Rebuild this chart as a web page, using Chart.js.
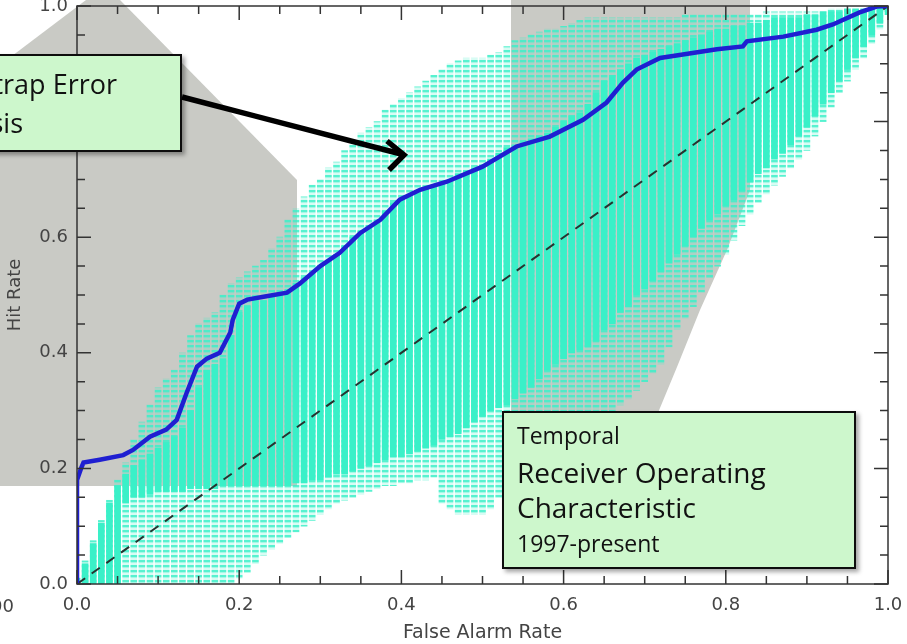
<!DOCTYPE html>
<html>
<head>
<meta charset="utf-8">
<script src="https://cdn.jsdelivr.net/npm/chart.js@4.4.1/dist/chart.umd.min.js"></script>
<style>
  body { margin: 0; background: #fff; }
  #wrap { position: relative; width: 907px; height: 644px; overflow: hidden; }
  #wrap svg, #wrap canvas { position: absolute; left: 0; top: 0; }
</style>
</head>
<body>
<div id="wrap">
  <!-- slide background shapes behind the chart -->
  <svg width="907" height="644">
    <polygon points="0,65 86,0 120,0 297,180 297,486 0,486" fill="#c9cac5"/>
    <polygon points="511,0 750,0 750,190 727,250 700,310 677,367 655,420 511,420" fill="#c9cac5"/>
  </svg>
  <canvas id="roc" width="907" height="644"></canvas>
  <!-- callouts on top -->
  <svg width="907" height="644">
    <defs>
      <filter id="sh" x="-10%" y="-10%" width="130%" height="130%">
        <feDropShadow dx="3" dy="3" stdDeviation="2" flood-color="#000" flood-opacity="0.35"/>
      </filter>
    </defs>
    <rect x="-20" y="55" width="201" height="96" fill="#cdf7cc" stroke="#111" stroke-width="2" filter="url(#sh)"/>
    <g font-family="Open Sans" fill="#111">
      <text x="117" y="94" font-size="27" text-anchor="end">Bootstrap Error</text>
      <text x="23" y="133" font-size="27" text-anchor="end">Analysis</text>
    </g>
    <line x1="182" y1="97" x2="401" y2="154" stroke="#000" stroke-width="5.5"/>
    <polyline points="387,141 404,155 389,170" fill="none" stroke="#000" stroke-width="5.5"/>
    <rect x="503" y="412" width="352" height="156" fill="#cdf7cc" stroke="#111" stroke-width="2" filter="url(#sh)"/>
    <g font-family="Open Sans" fill="#111">
      <text x="517" y="444" font-size="23">Temporal</text>
      <text x="517" y="483" font-size="28">Receiver Operating</text>
      <text x="517" y="518" font-size="28">Characteristic</text>
      <text x="517" y="552" font-size="23">1997-present</text>
    </g>
    <text x="14" y="612" font-family="DejaVu Sans" font-size="18" fill="#444" text-anchor="end">00</text>
  </svg>
</div>
<script>
'use strict'

// *********DATA***********

// main ROC curve (false alarm rate, hit rate)
let rocX = [0, 0, 0.005, 0.008, 0.028, 0.057, 0.069, 0.09, 0.11, 0.123, 0.135, 0.148, 0.16, 0.176, 0.189, 0.192,
  0.2, 0.21, 0.23, 0.259, 0.275, 0.3, 0.324, 0.349, 0.374, 0.398, 0.423, 0.456, 0.5, 0.542, 0.583, 0.624,
  0.653, 0.673, 0.69, 0.719, 0.747, 0.789, 0.821, 0.826, 0.871, 0.912, 0.932, 0.965, 0.986, 1];
let rocY = [0, 0.18, 0.2, 0.21, 0.215, 0.223, 0.232, 0.255, 0.267, 0.284, 0.33, 0.376, 0.39, 0.4, 0.435, 0.457,
  0.485, 0.492, 0.497, 0.504, 0.52, 0.55, 0.573, 0.607, 0.63, 0.665, 0.682, 0.696, 0.722, 0.757, 0.774, 0.803,
  0.833, 0.867, 0.89, 0.91, 0.916, 0.925, 0.93, 0.939, 0.947, 0.959, 0.968, 0.989, 0.999, 1];

// no-skill diagonal
let diagX = [0, 1];
let diagY = [0, 1];

// bootstrap cloud, one column every 0.01 of false alarm rate
let colX = Array.from({length: 101}, (v, i) => i / 100);

// sparse outer part of the cloud
let fringeLo = [0, 0, 0, 0, 0, 0, 0, 0, 0, 0,
  0, 0, 0, 0, 0, 0, 0, 0, 0, 0,
  0.01, 0.02, 0.035, 0.05, 0.06, 0.07, 0.08, 0.09, 0.10, 0.11,
  0.12, 0.13, 0.14, 0.145, 0.15, 0.155, 0.16, 0.165, 0.17, 0.17,
  0.175, 0.175, 0.18, 0.18, 0.185, 0.14, 0.13, 0.12, 0.12, 0.12,
  0.12, 0.13, 0.15, 0.18, 0.21, 0.24, 0.26, 0.27, 0.27, 0.28,
  0.28, 0.28, 0.285, 0.29, 0.29, 0.295, 0.30, 0.31, 0.32, 0.335,
  0.35, 0.365, 0.38, 0.41, 0.44, 0.46, 0.48, 0.505, 0.53, 0.55,
  0.57, 0.595, 0.62, 0.64, 0.66, 0.675, 0.69, 0.705, 0.72, 0.735,
  0.75, 0.775, 0.80, 0.825, 0.85, 0.87, 0.89, 0.91, 0.935, 0.96, 0.99];
let fringeHi = [0.01, 0.04, 0.075, 0.11, 0.145, 0.18, 0.21, 0.25, 0.28, 0.31,
  0.34, 0.355, 0.37, 0.40, 0.43, 0.45, 0.46, 0.47, 0.50, 0.52,
  0.53, 0.54, 0.55, 0.56, 0.58, 0.60, 0.63, 0.65, 0.67, 0.69,
  0.70, 0.72, 0.73, 0.75, 0.76, 0.78, 0.79, 0.80, 0.82, 0.83,
  0.84, 0.85, 0.86, 0.87, 0.88, 0.89, 0.90, 0.905, 0.91, 0.91,
  0.91, 0.915, 0.92, 0.93, 0.94, 0.945, 0.95, 0.955, 0.96, 0.96,
  0.965, 0.97, 0.975, 0.98, 0.98, 0.98, 0.98, 0.98, 0.98, 0.98,
  0.98, 0.98, 0.98, 0.98, 0.98, 0.985, 0.985, 0.985, 0.985, 0.985,
  0.985, 0.985, 0.985, 0.985, 0.985, 0.99, 0.99, 0.99, 0.99, 0.99,
  0.99, 0.99, 0.99, 0.995, 0.995, 0.995, 0.995, 0.995, 1.0, 1.0, 1.0];

// dense core of the cloud
let coreLo = [0, 0, 0, 0, 0, 0, 0.14, 0.15, 0.15, 0.155,
  0.16, 0.16, 0.16, 0.16, 0.165, 0.165, 0.165, 0.165, 0.17, 0.17,
  0.17, 0.17, 0.17, 0.17, 0.17, 0.17, 0.17, 0.175, 0.175, 0.18,
  0.18, 0.185, 0.19, 0.19, 0.195, 0.20, 0.205, 0.21, 0.215, 0.22,
  0.22, 0.225, 0.23, 0.235, 0.24, 0.25, 0.255, 0.26, 0.27, 0.28,
  0.29, 0.30, 0.305, 0.31, 0.32, 0.33, 0.34, 0.355, 0.37, 0.38,
  0.39, 0.40, 0.405, 0.41, 0.42, 0.44, 0.45, 0.47, 0.48, 0.50,
  0.51, 0.525, 0.54, 0.555, 0.57, 0.585, 0.60, 0.615, 0.63, 0.64,
  0.655, 0.665, 0.68, 0.695, 0.71, 0.72, 0.735, 0.745, 0.76, 0.775,
  0.79, 0.81, 0.83, 0.85, 0.87, 0.89, 0.91, 0.93, 0.95, 0.97, 0.985];
let coreHi = [0.01, 0.035, 0.07, 0.105, 0.14, 0.17, 0.19, 0.205, 0.215, 0.225,
  0.235, 0.245, 0.255, 0.27, 0.30, 0.34, 0.37, 0.38, 0.39, 0.43,
  0.47, 0.48, 0.49, 0.49, 0.50, 0.50, 0.51, 0.52, 0.53, 0.54,
  0.55, 0.56, 0.57, 0.585, 0.60, 0.61, 0.62, 0.63, 0.645, 0.66,
  0.665, 0.67, 0.68, 0.685, 0.69, 0.695, 0.70, 0.71, 0.715, 0.72,
  0.725, 0.735, 0.745, 0.755, 0.76, 0.765, 0.77, 0.775, 0.78, 0.79,
  0.80, 0.81, 0.815, 0.83, 0.85, 0.87, 0.88, 0.89, 0.90, 0.91,
  0.915, 0.92, 0.925, 0.93, 0.935, 0.94, 0.945, 0.95, 0.955, 0.96,
  0.96, 0.965, 0.965, 0.97, 0.97, 0.975, 0.98, 0.98, 0.98, 0.98,
  0.985, 0.985, 0.99, 0.99, 0.99, 0.995, 0.995, 0.995, 1.0, 1.0, 1.0];

// axis ticks
let tickValues = [0, 0.2, 0.4, 0.6, 0.8, 1.0];


// ********HELPERS*********

function toPoints(xs, ys){
  return xs.map((x, i) => ({x: x, y: ys[i]}));
}

function toRanges(xs, lo, hi){
  return xs.map((x, i) => ({x: x, y: [lo[i], hi[i]]}));
}

// rows of little marks, so the sparse part of the cloud looks dotted
function makeDotPattern(){
  let tile = document.createElement('canvas');
  tile.width = 1;
  tile.height = 5;
  let t = tile.getContext('2d');
  t.fillStyle = 'rgba(58, 240, 200, 0.85)';
  t.fillRect(0, 0, 1, 2);
  t.fillStyle = 'rgba(58, 240, 200, 0.45)';
  t.fillRect(0, 2, 1, 1);
  t.fillStyle = 'rgba(58, 240, 200, 0.2)';
  t.fillRect(0, 3, 1, 2);
  return t.createPattern(tile, 'repeat');
}

// closed box with inward ticks on all four sides, like the IDL plot
const frameTicks = {
  id: 'frameTicks',
  afterDatasetsDraw(chart){
    let ctx = chart.ctx;
    let a = chart.chartArea;
    let xs = chart.scales.x;
    let ys = chart.scales.y;
    ctx.save();
    ctx.strokeStyle = '#333';
    ctx.lineWidth = 1.5;
    ctx.strokeRect(a.left, a.top, a.right - a.left, a.bottom - a.top);
    for(let k = 0; k <= 20; k++){
      let v = k / 20;
      let len = (k % 4 === 0) ? 14 : 8;
      let px = xs.getPixelForValue(v);
      let py = ys.getPixelForValue(v);
      ctx.beginPath();
      ctx.moveTo(px, a.bottom); ctx.lineTo(px, a.bottom - len);
      ctx.moveTo(px, a.top); ctx.lineTo(px, a.top + len);
      ctx.moveTo(a.left, py); ctx.lineTo(a.left + len, py);
      ctx.moveTo(a.right, py); ctx.lineTo(a.right - len, py);
      ctx.stroke();
    }
    ctx.restore();
  }
};


// ********CHART*********

let cyan = 'rgb(58, 240, 200)';
let tickFont = {family: 'DejaVu Sans', size: 18};

let rocChart = new Chart(document.getElementById('roc'), {
  type: 'bar',
  data: {
    datasets: [
      {
        type: 'line',
        label: 'ROC',
        data: toPoints(rocX, rocY),
        borderColor: '#1f1fd1',
        borderWidth: 4.5,
        pointRadius: 0,
        tension: 0,
        order: 0
      },
      {
        type: 'line',
        label: 'No skill',
        data: toPoints(diagX, diagY),
        borderColor: '#26332f',
        borderWidth: 2,
        borderDash: [10, 8],
        pointRadius: 0,
        order: 1
      },
      {
        label: 'Bootstrap core',
        data: toRanges(colX, coreLo, coreHi),
        backgroundColor: cyan,
        barThickness: 6,
        grouped: false,
        borderWidth: 0,
        order: 2
      },
      {
        label: 'Bootstrap fringe',
        data: toRanges(colX, fringeLo, fringeHi),
        backgroundColor: makeDotPattern(),
        barThickness: 6,
        grouped: false,
        borderWidth: 0,
        order: 3
      }
    ]
  },
  options: {
    responsive: false,
    animation: false,
    layout: {padding: {top: 6, right: 19, left: 0, bottom: 0}},
    plugins: {
      legend: {display: false},
      tooltip: {enabled: false}
    },
    scales: {
      x: {
        type: 'linear',
        min: 0,
        max: 1,
        offset: false,
        afterBuildTicks: (s) => { s.ticks = tickValues.map(v => ({value: v})); },
        afterFit: (s) => { s.height = 60; s.paddingLeft = 0; s.paddingRight = 0; },
        ticks: {
          padding: 11,
          color: '#444',
          font: tickFont,
          callback: (v) => v.toFixed(1)
        },
        grid: {display: false, drawTicks: false},
        border: {display: false},
        title: {
          display: true,
          text: 'False Alarm Rate',
          color: '#444',
          font: {family: 'DejaVu Sans', size: 19},
          padding: {top: 0, bottom: 0}
        }
      },
      y: {
        min: 0,
        max: 1,
        afterBuildTicks: (s) => { s.ticks = tickValues.map(v => ({value: v})); },
        afterFit: (s) => { s.width = 77; s.paddingTop = 0; s.paddingBottom = 0; },
        ticks: {
          padding: 9,
          color: '#444',
          font: tickFont,
          callback: (v) => v.toFixed(1)
        },
        grid: {display: false, drawTicks: false},
        border: {display: false},
        title: {
          display: true,
          text: 'Hit Rate',
          color: '#444',
          font: {family: 'DejaVu Sans', size: 18},
          padding: {top: 5, bottom: 0}
        }
      }
    }
  },
  plugins: [frameTicks]
});
</script>
</body>
</html>
